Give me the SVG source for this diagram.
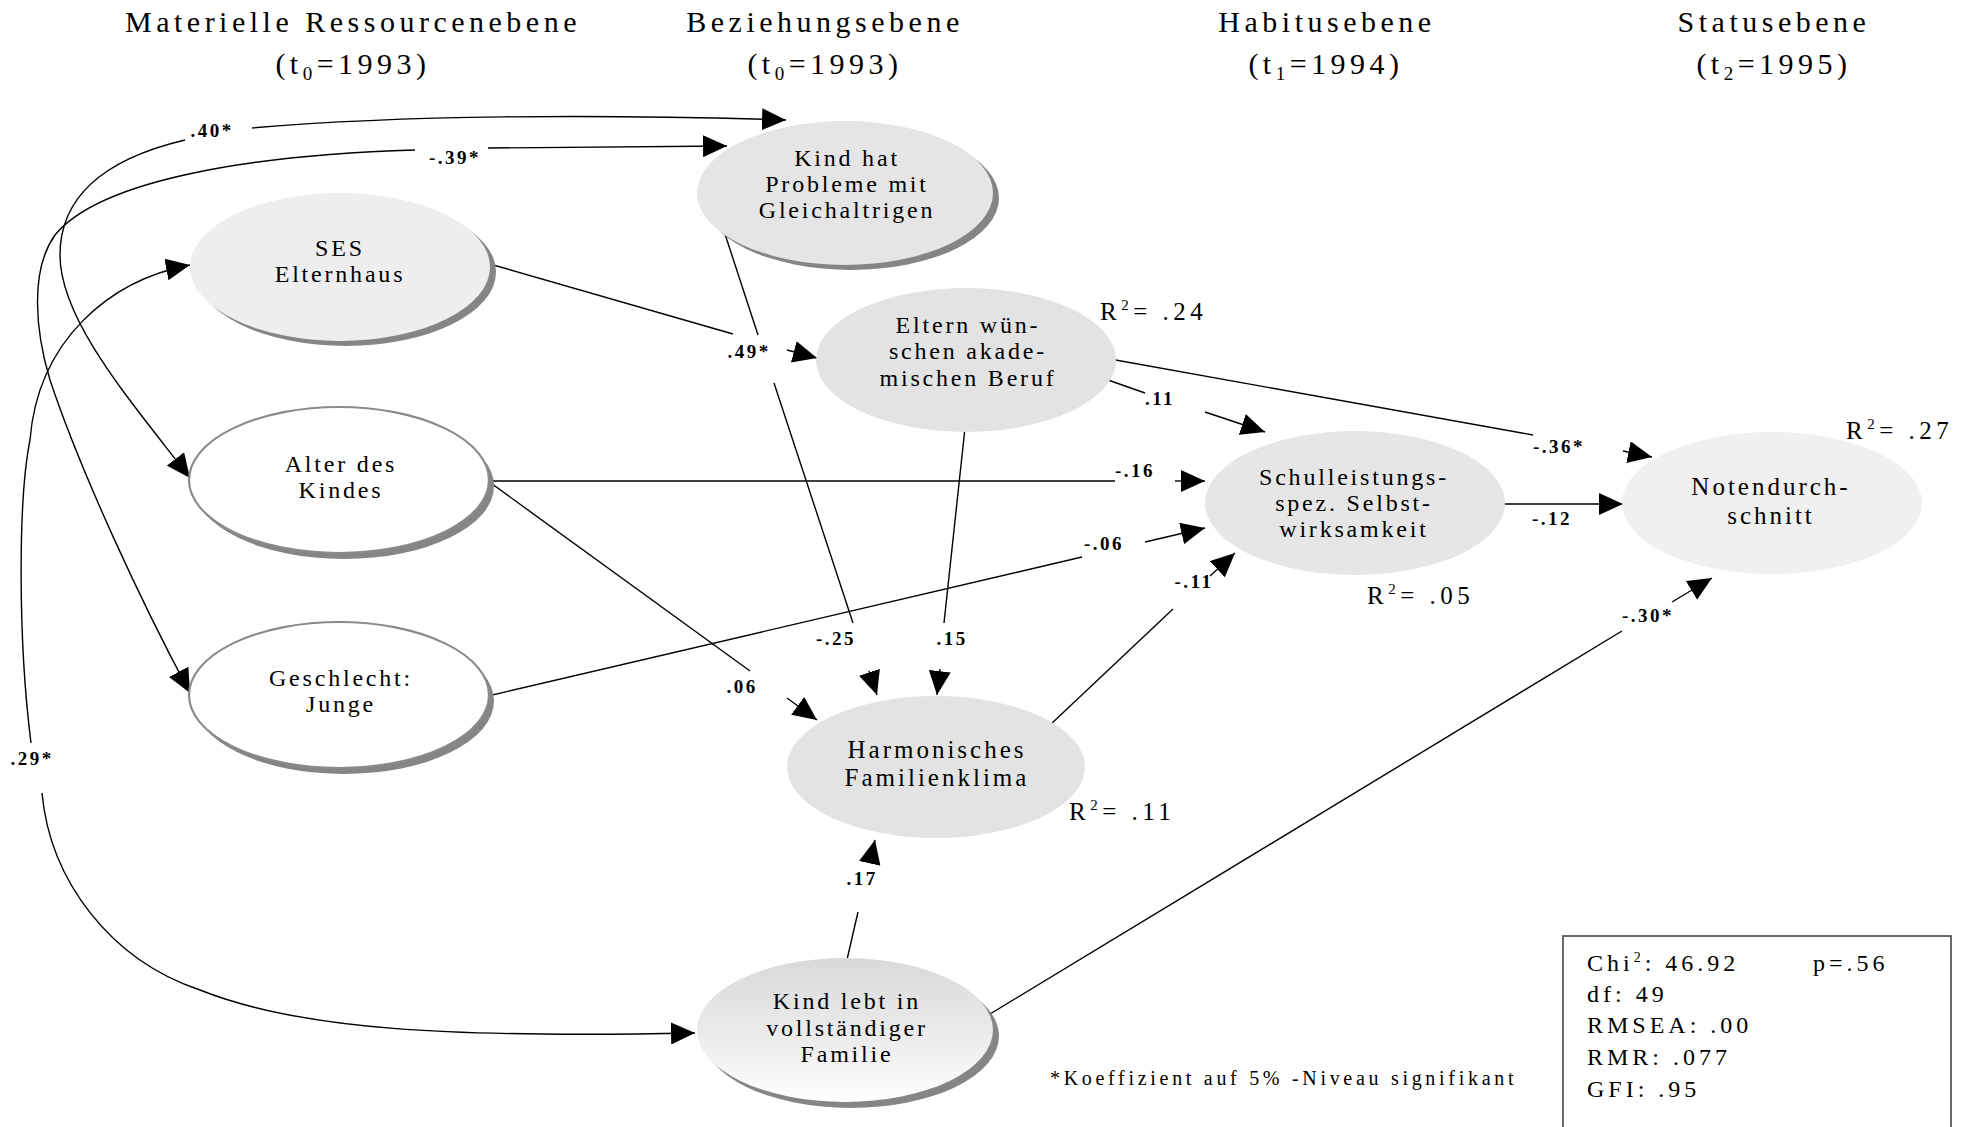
<svg xmlns="http://www.w3.org/2000/svg" width="1984" height="1127" viewBox="0 0 1984 1127">
  <style>
    text { font-family: "Liberation Serif", "Times New Roman", serif; fill: #000; }
    .hd { font-size: 30px; letter-spacing: 4.5px; text-anchor: middle; }
    .nd { font-size: 24px; letter-spacing: 2.8px; text-anchor: middle; }
    .ndl { font-size: 25px; letter-spacing: 3px; text-anchor: middle; }
    .lb { font-size: 19px; font-weight: bold; letter-spacing: 2.5px; text-anchor: middle; }
    .r2 { font-size: 25px; letter-spacing: 4.5px; }
    .st { font-size: 24px; letter-spacing: 4px; }
    .fn { font-size: 20px; letter-spacing: 3.7px; }
    .ln { stroke: #000; stroke-width: 1.4; fill: none; }
    .ar { marker-end: url(#ah); }
    .shadow { fill: #858585; }
    .outl { fill: #ffffff; stroke: #8a8a8a; stroke-width: 2.2; }
  </style>
  <defs>
    <marker id="ah" viewBox="0 0 24 22" refX="24" refY="11" markerWidth="24" markerHeight="22" markerUnits="userSpaceOnUse" orient="auto">
      <path d="M0,0 L24,11 L0,22 z" fill="#000"/>
    </marker>
    <linearGradient id="gFam" x1="0" y1="0" x2="0" y2="1">
      <stop offset="0" stop-color="#d9d9d9"/>
      <stop offset="0.55" stop-color="#ececec"/>
      <stop offset="1" stop-color="#ffffff"/>
    </linearGradient>
  </defs>

  <!-- column headings -->
  <g id="headings">
    <text class="hd" x="353" y="32">Materielle Ressourcenebene</text>
    <text class="hd" x="353" y="74">(t<tspan dy="6" font-size="19">0</tspan><tspan dy="-6">=1993)</tspan></text>
    <text class="hd" x="825" y="32">Beziehungsebene</text>
    <text class="hd" x="825" y="74">(t<tspan dy="6" font-size="19">0</tspan><tspan dy="-6">=1993)</tspan></text>
    <text class="hd" x="1327" y="32">Habitusebene</text>
    <text class="hd" x="1326" y="74">(t<tspan dy="6" font-size="19">1</tspan><tspan dy="-6">=1994)</tspan></text>
    <text class="hd" x="1774" y="32">Statusebene</text>
    <text class="hd" x="1774" y="74">(t<tspan dy="6" font-size="19">2</tspan><tspan dy="-6">=1995)</tspan></text>
  </g>

  <!-- paths and coefficients -->
  <g id="connectors">
    <!-- correlations (double-headed, curved) -->
    <path class="ln ar" d="M252,128 C400,115 600,114 786,120"/>
    <path class="ln ar" d="M185,140 C100,160 60,200 60,255 C60,320 130,400 190,478"/>
    <path class="ln ar" d="M488,148 L727,146"/>
    <path class="ln ar" d="M415,150 C250,155 100,180 55,235 C30,270 35,330 50,380 C80,470 140,600 190,693"/>
    <path class="ln ar" d="M31,743 C18,640 18,500 30,440 C38,340 110,280 190,265"/>
    <path class="ln ar" d="M42,793 C50,880 110,960 200,990 C300,1030 450,1038 695,1033"/>

    <!-- SES -> Eltern -->
    <path class="ln" d="M490,264 L733,334"/>
    <path class="ln ar" d="M787,350 L817,358"/>
    <!-- Kind hat Probleme -> Familienklima -->
    <path class="ln" d="M724,231 L758,335"/>
    <path class="ln" d="M774,383 L853,623"/>
    <path class="ln ar" d="M869,671 L877,695"/>
    <!-- Eltern -> Familienklima -->
    <path class="ln" d="M965,428 L944,623"/>
    <path class="ln ar" d="M940,669 L937,695"/>
    <!-- Alter -> Familienklima -->
    <path class="ln" d="M488,481 L750,671"/>
    <path class="ln ar" d="M787,698 L817,720"/>
    <!-- Geschlecht -> Selbstwirksamkeit -->
    <path class="ln" d="M488,696 L1082,557"/>
    <path class="ln ar" d="M1145,542 L1205,528"/>
    <!-- Alter -> Selbstwirksamkeit -->
    <path class="ln" d="M488,481 L1115,481"/>
    <path class="ln ar" d="M1175,481 L1205,481"/>
    <!-- Eltern -> Selbstwirksamkeit -->
    <path class="ln" d="M1108,380 L1145,393"/>
    <path class="ln ar" d="M1205,412 L1265,432"/>
    <!-- Eltern -> Notendurchschnitt -->
    <path class="ln" d="M1110,359 L1533,435"/>
    <path class="ln ar" d="M1623,451 L1652,457"/>
    <!-- Selbstwirksamkeit -> Notendurchschnitt -->
    <path class="ln ar" d="M1503,504 L1623,504"/>
    <!-- vollständige Familie -> Notendurchschnitt -->
    <path class="ln" d="M990,1014 L1622,631"/>
    <path class="ln ar" d="M1672,602 L1712,578"/>
    <!-- Familienklima -> Selbstwirksamkeit -->
    <path class="ln" d="M1050,725 L1173,609"/>
    <path class="ln ar" d="M1210,576 L1235,553"/>
    <!-- vollständige Familie -> Familienklima -->
    <path class="ln" d="M846,964 L858,912"/>
    <path class="ln ar" d="M870,862 L875,840"/>

    <text class="lb" x="212" y="137">.40*</text>
    <text class="lb" x="455" y="164">-.39*</text>
    <text class="lb" x="749" y="358">.49*</text>
    <text class="lb" x="836" y="645">-.25</text>
    <text class="lb" x="952" y="645">.15</text>
    <text class="lb" x="742" y="693">.06</text>
    <text class="lb" x="1104" y="550">-.06</text>
    <text class="lb" x="1135" y="477">-.16</text>
    <text class="lb" x="1160" y="405">.11</text>
    <text class="lb" x="1559" y="453">-.36*</text>
    <text class="lb" x="1552" y="525">-.12</text>
    <text class="lb" x="1648" y="622">-.30*</text>
    <text class="lb" x="1194" y="588">-.11</text>
    <text class="lb" x="862" y="885">.17</text>
    <text class="lb" x="32" y="765">.29*</text>
  </g>

  <!-- nodes -->
  <g id="ses">
    <ellipse class="shadow" cx="346" cy="272" rx="150" ry="74"/>
    <ellipse cx="340" cy="267" rx="150" ry="74" fill="#eeeeee"/>
    <text class="nd" x="340" y="256">SES</text>
    <text class="nd" x="340" y="282">Elternhaus</text>
  </g>
  <g id="kind-probleme">
    <ellipse class="shadow" cx="851" cy="198" rx="148" ry="72"/>
    <ellipse cx="845" cy="193" rx="148" ry="72" fill="#e5e5e5"/>
    <text class="nd" x="847" y="166">Kind hat</text>
    <text class="nd" x="847" y="192">Probleme mit</text>
    <text class="nd" x="847" y="218">Gleichaltrigen</text>
  </g>
  <g id="alter">
    <ellipse class="shadow" cx="344" cy="486" rx="150" ry="73"/>
    <ellipse class="outl" cx="339" cy="480" rx="150" ry="73"/>
    <text class="nd" x="341" y="472">Alter des</text>
    <text class="nd" x="341" y="498">Kindes</text>
  </g>
  <g id="geschlecht">
    <ellipse class="shadow" cx="344" cy="701" rx="150" ry="73"/>
    <ellipse class="outl" cx="339" cy="695" rx="150" ry="73"/>
    <text class="nd" x="341" y="686">Geschlecht:</text>
    <text class="nd" x="341" y="712">Junge</text>
  </g>
  <g id="eltern-wunsch">
    <ellipse cx="966" cy="360" rx="150" ry="72" fill="#e3e3e3"/>
    <text class="nd" x="968" y="333">Eltern wün-</text>
    <text class="nd" x="968" y="359">schen akade-</text>
    <text class="nd" x="968" y="386">mischen Beruf</text>
    <text class="r2" x="1100" y="320">R<tspan dy="-10" font-size="15">2</tspan><tspan dy="10">= .24</tspan></text>
  </g>
  <g id="selbstwirksamkeit">
    <ellipse cx="1355" cy="503" rx="150" ry="72" fill="#e6e6e6"/>
    <text class="nd" x="1354" y="485">Schulleistungs-</text>
    <text class="nd" x="1354" y="511">spez. Selbst-</text>
    <text class="nd" x="1354" y="537">wirksamkeit</text>
    <text class="r2" x="1367" y="604">R<tspan dy="-10" font-size="15">2</tspan><tspan dy="10">= .05</tspan></text>
  </g>
  <g id="notendurchschnitt">
    <ellipse cx="1772" cy="503" rx="150" ry="71" fill="#f0f0f0"/>
    <text class="ndl" x="1771" y="495">Notendurch-</text>
    <text class="ndl" x="1771" y="524">schnitt</text>
    <text class="r2" x="1846" y="439">R<tspan dy="-10" font-size="15">2</tspan><tspan dy="10">= .27</tspan></text>
  </g>
  <g id="familienklima">
    <ellipse cx="936" cy="767" rx="149" ry="71" fill="#e3e3e3"/>
    <text class="ndl" x="937" y="758">Harmonisches</text>
    <text class="ndl" x="937" y="786">Familienklima</text>
    <text class="r2" x="1069" y="820">R<tspan dy="-10" font-size="15">2</tspan><tspan dy="10">= .11</tspan></text>
  </g>
  <g id="vollstaendige-familie">
    <ellipse class="shadow" cx="851" cy="1036" rx="148" ry="72"/>
    <ellipse cx="845" cy="1030" rx="148" ry="72" fill="url(#gFam)"/>
    <text class="nd" x="847" y="1009">Kind lebt in</text>
    <text class="nd" x="847" y="1036">vollständiger</text>
    <text class="nd" x="847" y="1062">Familie</text>
  </g>

  <!-- fit statistics and note -->
  <g id="fit-box">
    <rect x="1563" y="936" width="388" height="230" fill="none" stroke="#444" stroke-width="1.6"/>
    <text class="st" x="1587" y="971">Chi<tspan dy="-9" font-size="14">2</tspan><tspan dy="9">: 46.92</tspan></text>
    <text class="st" x="1813" y="971">p=.56</text>
    <text class="st" x="1587" y="1002">df: 49</text>
    <text class="st" x="1587" y="1033">RMSEA: .00</text>
    <text class="st" x="1587" y="1065">RMR: .077</text>
    <text class="st" x="1587" y="1097">GFI: .95</text>
  </g>
  <text class="fn" x="1050" y="1085">*Koeffizient auf 5% -Niveau signifikant</text>
</svg>
